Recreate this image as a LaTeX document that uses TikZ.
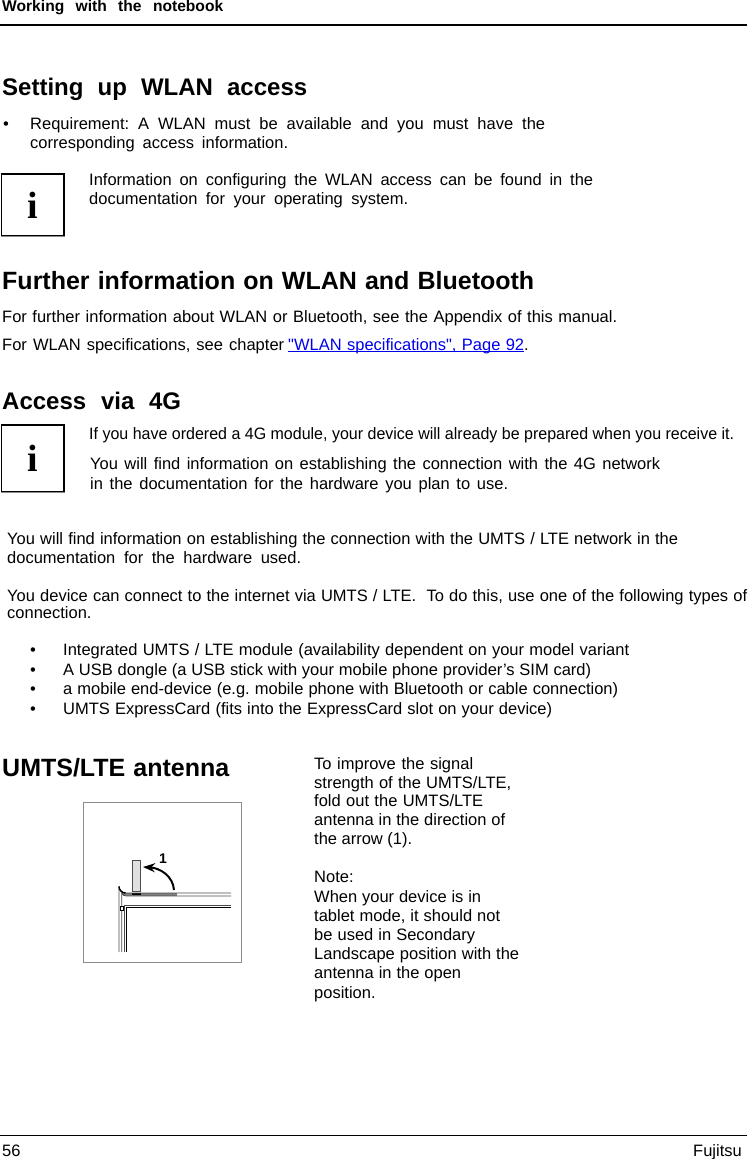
\documentclass[tikz,border=0pt]{standalone}
\usepackage{fontspec}
\setmainfont{Liberation Sans}
\newfontfamily\iconfont{Liberation Serif}
\newfontfamily\linkfont{Liberation Sans}
\usetikzlibrary{positioning,arrows.meta}
\definecolor{linkblue}{RGB}{0,0,238}
\newcommand{\fitw}[2]{\makebox[#1pt][s]{#2}}

\begin{document}
\begin{tikzpicture}[x=1pt,y=-1pt,>=Stealth]
    \tikzstyle{line}=[anchor=base west,inner sep=0pt,font=\fontsize{16.5}{18}\selectfont\frenchspacing]
    \tikzstyle{head}=[anchor=base west,inner sep=0pt,font=\fontsize{25}{30}\selectfont\bfseries]
    \tikzstyle{headwide}=[anchor=base west,inner sep=0pt,font=\fontsize{24}{30}\selectfont\bfseries]
    \tikzstyle{rimline}=[line width=0.7pt,black!70]

    \useasboundingbox (0,0) rectangle (747,1159);

    % page head and foot
    \node[line,font=\fontsize{15.6}{18}\selectfont\bfseries] (pagehead) at (2,12) {\fitw{221}{Working with the notebook}};
    \coordinate (headl) at (0,25);
    \coordinate (headr) at (747,25);
    \draw[line width=1.5pt] (headl) -- (headr);
    \coordinate (footl) at (0,1135);
    \coordinate (footr) at (747,1135);
    \draw[line width=0.7pt] (footl) -- (footr);
    \node[line] (pagenum) at (2,1156) {56};
    \node[line] (brand) at (693,1156) {\fitw{49}{Fujitsu}};

    % wlan access
    \node[headwide] (wlanhead) at (2,95) {\fitw{305}{Setting up WLAN access}};
    \node[line] (bullet) at (3,129) {•};
    \node[line] (req1) at (30,129) {\fitw{515}{Requirement: A WLAN must be available and you must have the}};
    \node[line] (req2) at (30,148) {\fitw{258}{corresponding access information.}};
    \node[line] (info1) at (89,185) {\fitw{504}{Information on configuring the WLAN access can be found in the}};
    \node[line] (info2) at (89,204) {\fitw{319}{documentation for your operating system.}};

    % further information
    \node[head] (morehead) at (2,289) {\fitw{532}{Further information on WLAN and Bluetooth}};
    \node[line] (more1) at (2,322) {\fitw{615}{For further information about WLAN or Bluetooth, see the Appendix of this manual.}};
    \node[line] (more2) at (2,350) {\fitw{282}{For WLAN specifications, see chapter}};
    \node[line,text=linkblue] (speclink) at (288,350) {\underline{\smash{\fitw{236}{\linkfont"WLAN specifications", Page 92}}}};
    \node[line] (stop) at (524,350) {.};

    % access via 4G
    \node[headwide] (fourghead) at (2,409) {\fitw{179}{Access via 4G}};
    \node[line] (four1) at (89,439) {\resizebox{645pt}{\height}{If you have ordered a 4G module, your device will already be prepared when you receive it.}};
    \node[line] (four2) at (90,469) {\fitw{570}{You will find information on establishing the connection with the 4G network}};
    \node[line] (four3) at (90,489) {\fitw{418}{in the documentation for the hardware you plan to use.}};
    \node[line] (umts1) at (7,544) {\fitw{671}{You will find information on establishing the connection with the UMTS / LTE network in the}};
    \node[line] (umts2) at (7,563) {\fitw{294}{documentation for the hardware used.}};
    \node[line] (umts3) at (7,601) {\fitw{740}{You device can connect to the internet via UMTS / LTE.\ \ To do this, use one of the following types of}};
    \node[line] (umts4) at (7,618) {\fitw{84}{connection.}};

    \foreach \y in {655,675,694,714} {
        \node[line] (dot\y) at (30,\y) {•};
    }
    \node[line] (item1) at (63,655) {\fitw{566}{Integrated UMTS / LTE module (availability dependent on your model variant}};
    \node[line] (item2) at (63,675) {\fitw{528}{A USB dongle (a USB stick with your mobile phone provider’s SIM card)}};
    \node[line] (item3) at (63,694) {\fitw{555}{a mobile end-device (e.g. mobile phone with Bluetooth or cable connection)}};
    \node[line] (item4) at (63,714) {\fitw{489}{UMTS ExpressCard (fits into the ExpressCard slot on your device)}};

    % antenna
    \node[head] (antennahead) at (2,776) {\fitw{227}{UMTS/LTE antenna}};
    \node[line] (col1) at (314,769) {\fitw{159}{To improve the signal}};
    \node[line] (col2) at (314,788) {\fitw{197}{strength of the UMTS/LTE,}};
    \node[line] (col3) at (314,806) {\fitw{169}{fold out the UMTS/LTE}};
    \node[line] (col4) at (314,825) {\fitw{191}{antenna in the direction of}};
    \node[line] (col5) at (314,844) {\fitw{98}{the arrow (1).}};
    \node[line] (col6) at (314,882) {\fitw{36}{Note:}};
    \node[line] (col7) at (314,902) {\fitw{167}{When your device is in}};
    \node[line] (col8) at (314,921) {\fitw{186}{tablet mode, it should not}};
    \node[line] (col9) at (314,940) {\fitw{161}{be used in Secondary}};
    \node[line] (col10) at (314,959) {\fitw{205}{Landscape position with the}};
    \node[line] (col11) at (314,978) {\fitw{147}{antenna in the open}};
    \node[line] (col12) at (314,998) {\fitw{61}{position.}};

    % info icons
    \foreach \n/\t/\b in {a/174/236,b/425/492} {
        \fill[black!45] (0.5,\t+1) rectangle (64.5,\b+0.8);
        \draw[line width=1.1pt,fill=white] (1.6,\t) rectangle (64,\b-0.6);
        \node[anchor=base,inner sep=0pt,font=\fontsize{38}{38}\selectfont\iconfont\bfseries] (icon\n) at (33,\t/2+\b/2+13) {i};
    }

    % antenna picture
    \draw[black!45,line width=0.9pt] (83,802) rectangle (241.7,962);
    \fill[black!50] (123,893) rectangle (177,896);
    \fill[black] (132,892.5) rectangle (141,895);
    \draw[rimline,fill=black!12] (132.3,860) rectangle (140.7,891.7);
    \draw[rimline] (231,893) -- (126,893) arc (90:180:7) -- (119,952);
    \draw[rimline] (231,896) -- (126,896) arc (90:180:4.3) -- (121.7,952);
    \draw[rimline] (231,905) -- (124.3,905) -- (124.3,952);
    \draw[line width=0.9pt] (231,907) -- (126.7,907) -- (126.7,952);
    \draw[line width=1.5pt] (125.5,893) arc (90:180:6.5);
    \draw[line width=0.7pt,fill=white] (120,906.5) rectangle (123.5,910);
    \draw[line width=2pt,->] (174,890) .. controls (173,876) and (160,868) .. (143,867);
    \node[anchor=base,inner sep=0pt,font=\fontsize{14}{14}\selectfont\bfseries] (arrowlabel) at (163,863) {1};
\end{tikzpicture}
\end{document}
